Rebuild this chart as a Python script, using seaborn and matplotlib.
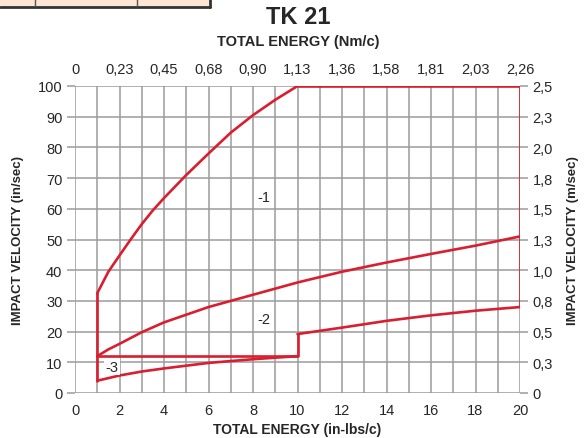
import pandas as pd
import matplotlib.pyplot as plt
import seaborn as sns
from matplotlib.patches import Rectangle

# valores (energia em in-lbs/c, velocidade em in/sec)
curva1_x = [1, 1.5, 2, 2.5, 3, 3.5, 4, 5, 6, 7, 8, 9, 10]
curva1_y = [32.5, 39.5, 44.8, 50, 55, 59.5, 63.5, 71, 78, 84.8, 90.5, 95.5, 100]
topo_x = [10, 20, 20]
topo_y = [100, 100, 28]
curva2_x = [1, 1.5, 2, 3, 4, 6, 8, 10, 12, 14, 16, 18, 20]
curva2_y = [12, 14.2, 16, 19.8, 23, 28, 32, 36, 39.5, 42.5, 45.3, 48, 51]
curva3_x = [1, 2, 3, 4, 6, 8, 10]
curva3_y = [4, 5.7, 7, 8, 9.8, 11, 12]
patamar_x = [1, 10, 10]
patamar_y = [12, 12, 19.2]
curva4_x = [10, 12, 14, 16, 18, 20]
curva4_y = [19.2, 21.3, 23.5, 25.3, 26.8, 28]
esquerda_x = [1, 1]
esquerda_y = [4, 32.5]

rotulos_topo = ['0', '0,23', '0,45', '0,68', '0,90', '1,13', '1,36', '1,58', '1,81', '2,03', '2,26']
rotulos_dir = ['0', '0,3', '0,5', '0,8', '1,0', '1,3', '1,5', '1,8', '2,0', '2,3', '2,5']
zonas = ['-1', '-2', '-3']
zonas_x = [8.5, 8.5, 1.65]
zonas_y = [64, 24, 8.5]

segmentos = [
    ('c1', curva1_x, curva1_y), ('topo', topo_x, topo_y), ('c2', curva2_x, curva2_y),
    ('c3', curva3_x, curva3_y), ('pat', patamar_x, patamar_y), ('c4', curva4_x, curva4_y),
    ('esq', esquerda_x, esquerda_y),
]
linhas = []
for nome, xs, ys in segmentos:
    for i, (x, y) in enumerate(zip(xs, ys)):
        linhas.append({'seg': nome, 'ordem': i, 'energia': x, 'velocidade': y})
df = pd.DataFrame(linhas)

sns.set_style('white')
plt.rcParams['font.family'] = ['Liberation Sans', 'DejaVu Sans']

vermelho = '#d81e2f'
cinza = '#9b9b9b'

fig = plt.figure(figsize=(5.88, 4.39), dpi=100)
ax = fig.add_axes([75 / 588, 1 - 394 / 439, 445 / 588, 307 / 439])

ax.set_xlim(0, 20)
ax.set_ylim(0, 100)
ax.set_xticks(range(0, 21), minor=True)
ax.set_xticks(range(0, 21, 2))
ax.set_yticks(range(0, 101, 10))
ax.grid(True, which='both', axis='x', color=cinza, linewidth=1.1)
ax.grid(True, which='major', axis='y', color=cinza, linewidth=1.1)
ax.set_axisbelow(True)
for s in ax.spines.values():
    s.set_visible(False)

sns.lineplot(data=df, x='energia', y='velocidade', units='seg', estimator=None,
             sort=False, color=vermelho, linewidth=1.9, ax=ax, legend=False)

for t, x, y in zip(zonas, zonas_x, zonas_y):
    bbox = dict(facecolor='white', edgecolor='none', pad=1) if t == '-3' else None
    ax.text(x, y, t, fontsize=10.5, ha='center', va='center', bbox=bbox)

ax.tick_params(axis='x', which='both', length=0, pad=7, labelsize=10.5)
ax.tick_params(axis='y', length=6, color=cinza, width=1.1, pad=3, labelsize=10.5, left=True)
ax.set_xlabel('TOTAL ENERGY (in-lbs/c)', fontsize=10, fontweight='bold', labelpad=4)
ax.set_ylabel('IMPACT VELOCITY (in/sec)', fontsize=9.5, fontweight='bold', labelpad=10)

ax_d = ax.twinx()
ax_d.set_ylim(0, 100)
ax_d.set_yticks(range(0, 101, 10))
ax_d.set_yticklabels(rotulos_dir)
ax_d.tick_params(axis='y', length=6, color=cinza, width=1.1, pad=3, labelsize=10.5, right=True)
ax_d.set_ylabel('IMPACT VELOCITY (m/sec)', fontsize=9.5, fontweight='bold', labelpad=10)
for s in ax_d.spines.values():
    s.set_visible(False)

ax_t = ax.twiny()
ax_t.set_xlim(0, 20)
ax_t.set_xticks(range(0, 21, 2))
ax_t.set_xticklabels(rotulos_topo)
ax_t.tick_params(axis='x', length=0, pad=7, labelsize=10.5, top=True)
for s in ax_t.spines.values():
    s.set_visible(False)

fig.text(298 / 588, 1 - 18 / 439, 'TK 21', fontsize=17, fontweight='bold', ha='center', va='center',
         family=['Liberation Sans Narrow', 'Liberation Sans'])
fig.text(298 / 588, 1 - 42 / 439, 'TOTAL ENERGY (Nm/c)', fontsize=10.5, fontweight='bold', ha='center', va='center')

# pedaço da tabela cortada no topo
fig.patches.append(Rectangle((0, 1 - 8 / 439), 209 / 588, 8 / 439, transform=fig.transFigure,
                             facecolor='#fde5d4', edgecolor='none'))
fig.lines.append(plt.Line2D([0, 210 / 588], [1 - 7.5 / 439] * 2, transform=fig.transFigure, color='#333333', linewidth=2))
fig.lines.append(plt.Line2D([210 / 588] * 2, [1 - 7.5 / 439, 1], transform=fig.transFigure, color='#333333', linewidth=2))
for px in [35, 137]:
    fig.lines.append(plt.Line2D([px / 588] * 2, [1 - 7 / 439, 1], transform=fig.transFigure, color='#555555', linewidth=1))

plt.savefig('out.png', dpi=100)
